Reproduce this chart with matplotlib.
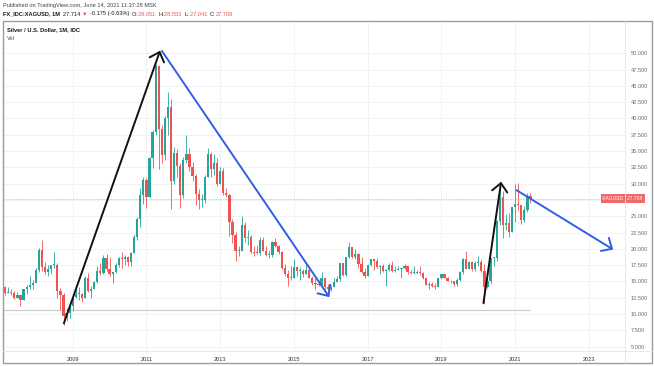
import numpy as np
import pandas as pd
import matplotlib
matplotlib.use("Agg")
import matplotlib.pyplot as plt
from matplotlib.patches import Rectangle
from matplotlib.lines import Line2D

# Дані: місячні свічки XAGUSD, березень 2007 - червень 2021
start_month = "2007-03"
first_open = 14.2

closes = [
    13.3, 13.4, 13.3, 12.4, 12.9, 12.2, 13.8, 14.2, 14.5, 14.8,              # 2007
    16.8, 19.9, 17.2, 16.4, 16.9, 17.5, 17.6, 13.6, 12.9, 9.7, 10.2, 11.3,   # 2008
    12.6, 13.1, 13.1, 12.5, 15.6, 13.6, 13.9, 14.9, 16.6, 16.3, 18.6, 16.9,  # 2009
    16.2, 16.4, 17.5, 18.6, 18.4, 18.7, 18.0, 19.4, 21.9, 24.6, 28.3, 30.6,  # 2010
    27.9, 33.9, 37.9, 48.0, 38.4, 34.4, 40.1, 41.7, 30.4, 34.7, 32.7, 28.2,  # 2011
    33.6, 34.6, 32.5, 31.2, 28.4, 27.5, 27.5, 31.1, 34.6, 32.3, 33.1, 29.9,  # 2012
    31.9, 28.6, 28.3, 24.2, 22.2, 19.7, 19.7, 23.6, 21.7, 21.9, 19.5, 19.4,  # 2013
    19.3, 21.3, 19.7, 19.0, 19.0, 21.0, 20.4, 19.5, 17.1, 16.2, 15.5, 15.6,  # 2014
    17.2, 16.6, 16.6, 16.2, 16.8, 15.6, 14.7, 14.6, 14.5, 15.5, 14.1, 13.8,  # 2015
    14.1, 14.9, 15.4, 17.8, 16.0, 18.7, 20.3, 18.7, 19.2, 17.7, 16.5, 15.9,  # 2016
    17.5, 18.4, 18.2, 17.2, 17.3, 16.6, 16.7, 17.6, 16.6, 16.7, 16.9, 17.0,  # 2017
    17.3, 16.4, 16.3, 16.3, 16.4, 16.3, 15.5, 14.5, 14.6, 14.3, 14.2, 15.5,  # 2018
    16.1, 15.6, 15.1, 15.0, 14.6, 15.3, 16.4, 18.4, 16.9, 18.0, 16.9, 17.9,  # 2019
    18.0, 16.6, 14.2, 15.0, 18.6, 18.6, 24.3, 28.0, 23.6, 23.9, 22.6, 26.4,  # 2020
    26.9, 26.7, 24.5, 25.9, 28.051, 27.708,                                  # 2021
]
highs = [
    14.3, 14.1, 13.9, 13.6, 13.4, 13.0, 13.9, 14.5, 15.8, 15.2,
    17.0, 20.1, 21.3, 18.0, 17.5, 17.6, 19.5, 17.8, 14.0, 13.2, 10.9, 11.6,
    12.9, 14.5, 14.1, 13.3, 15.8, 16.3, 14.3, 15.1, 17.4, 17.9, 19.0, 19.2,
    18.8, 16.5, 17.8, 18.8, 19.5, 19.1, 18.9, 19.5, 22.1, 24.9, 29.3, 31.0,
    30.9, 34.1, 38.2, 48.3, 48.1, 39.0, 40.4, 44.1, 43.0, 35.7, 35.3, 33.1,
    34.1, 37.5, 35.4, 33.4, 31.5, 29.2, 28.4, 31.4, 35.4, 34.8, 34.5, 34.0,
    32.5, 32.4, 29.3, 28.4, 24.6, 22.6, 20.5, 25.1, 24.1, 22.9, 22.1, 20.5,
    20.6, 21.9, 21.8, 20.4, 19.8, 21.2, 21.6, 20.6, 19.6, 17.7, 16.7, 17.3,
    18.5, 17.4, 17.2, 16.9, 17.8, 16.9, 15.8, 15.6, 15.3, 16.4, 15.6, 14.6,
    14.5, 15.6, 15.9, 17.9, 17.9, 18.8, 21.1, 20.3, 20.0, 19.3, 18.7, 17.0,
    17.7, 18.5, 18.5, 18.6, 17.6, 17.7, 16.9, 17.8, 18.2, 17.4, 17.3, 17.1,
    17.7, 17.4, 16.8, 17.3, 16.7, 17.3, 16.4, 15.6, 14.9, 14.9, 14.7, 15.6,
    16.2, 16.2, 15.7, 15.2, 15.0, 15.5, 16.6, 18.6, 19.6, 18.1, 18.1, 18.1,
    18.9, 18.5, 17.7, 15.9, 18.6, 18.7, 24.5, 29.8, 28.9, 25.4, 25.5, 26.4,
    30.0, 30.1, 26.8, 26.6, 28.5, 28.553,
]
lows = [
    12.9, 13.2, 12.9, 12.3, 12.4, 11.2, 12.2, 13.1, 13.9, 13.9,
    14.7, 16.5, 16.6, 16.2, 15.9, 16.1, 17.0, 12.5, 10.6, 8.4, 8.9, 9.4,
    10.5, 12.4, 12.2, 11.9, 12.4, 13.4, 12.5, 13.9, 14.7, 16.0, 16.2, 16.6,
    15.9, 14.7, 16.3, 17.2, 17.0, 17.6, 17.4, 17.4, 19.3, 21.3, 23.4, 26.9,
    26.3, 27.8, 32.4, 37.5, 32.3, 33.1, 33.7, 37.5, 26.1, 29.9, 31.0, 26.2,
    27.8, 33.1, 32.0, 30.4, 26.7, 26.1, 26.5, 27.0, 31.0, 31.0, 31.3, 29.6,
    29.9, 28.3, 27.9, 22.0, 20.9, 18.2, 18.9, 19.6, 21.0, 20.6, 19.4, 18.9,
    19.2, 19.0, 19.6, 18.9, 18.6, 18.7, 20.3, 19.2, 16.9, 15.8, 14.3, 15.2,
    15.6, 15.9, 15.3, 15.7, 16.2, 15.5, 14.5, 13.9, 14.3, 14.5, 13.9, 13.6,
    13.6, 14.1, 14.9, 15.0, 15.8, 15.9, 18.6, 18.6, 18.5, 17.0, 16.3, 15.6,
    15.8, 17.4, 16.8, 17.0, 16.2, 16.5, 14.3, 16.6, 16.5, 16.5, 16.7, 15.6,
    16.9, 16.1, 16.1, 16.2, 16.1, 16.0, 15.4, 14.4, 13.9, 14.2, 13.9, 14.2,
    15.4, 15.5, 15.0, 14.7, 14.3, 14.3, 15.0, 16.2, 16.9, 16.9, 16.6, 16.6,
    17.4, 16.5, 11.6, 14.0, 14.8, 17.3, 18.2, 23.7, 21.7, 22.9, 21.9, 22.6,
    24.2, 26.0, 23.8, 24.1, 25.7, 27.041,
]

opens = [first_open] + closes[:-1]

last_price = 27.708
base_level = 10.6

price_ticks = [5 + 2.5 * i for i in range(19)]
year_ticks = [2009, 2011, 2013, 2015, 2017, 2019, 2021, 2023]

# Намальовані від руки стрілки: (рік, ціна) початок -> кінець
arrows = [
    ((2008.76, 8.6), (2011.37, 50.4), "#111111"),
    ((2011.42, 50.35), (2015.96, 12.6), "#2f5fe3"),
    ((2020.14, 11.7), (2020.62, 30.3), "#111111"),
    ((2021.04, 29.0), (2023.66, 19.9), "#2f5fe3"),
]

header1 = "Published on TradingView.com, June 14, 2021 11:37:28 MSK"
header2 = [
    ("FX_IDC:XAGUSD, 1M  ", "#131722", "bold"),
    ("27.714 ", "#131722", "normal"),
    ("▼ ", "#ef5350", "normal"),
    ("-0.175 (-0.63%)  ", "#131722", "normal"),
    ("O:", "#131722", "normal"), ("28.051  ", "#ef5350", "normal"),
    ("H:", "#131722", "normal"), ("28.553  ", "#ef5350", "normal"),
    ("L:", "#131722", "normal"), ("27.041  ", "#ef5350", "normal"),
    ("C:", "#131722", "normal"), ("27.708", "#ef5350", "normal"),
]

GREEN = "#26a69a"
RED = "#ef5350"
W, H = 654, 366
FS = 4.1

plt.rcParams["font.family"] = ["Liberation Sans", "DejaVu Sans"]

fig = plt.figure(figsize=(W / 100, H / 100), dpi=100)
fig.patch.set_facecolor("white")

def fx(px):
    return px / W

def fy(py):
    return 1 - py / H

ax = fig.add_axes([fx(4), fy(351), fx(625) - fx(4), fy(21) - fy(351)])
ax.set_xlim(2007.136, 2023.98)
ax.set_ylim(4.34, 54.95)

# сітка
for p in price_ticks:
    ax.axhline(p, color="#eef0f4", lw=0.6, zorder=0)
for yr in year_ticks:
    ax.axvline(yr, color="#eef0f4", lw=0.6, zorder=0)

# свічки
months = pd.period_range(start_month, periods=len(closes), freq="M")
xs = np.array([m.year + (m.month - 1) / 12 for m in months])
o = np.array(opens)
c = np.array(closes)
hi = np.array(highs)
lo = np.array(lows)
up = c >= o
cols = np.where(up, GREEN, RED)
ax.vlines(xs, lo, hi, colors=cols, lw=0.6, zorder=2)
body_bottom = np.minimum(o, c)
body_height = np.maximum(np.abs(c - o), 0.15)
ax.bar(xs, body_height, bottom=body_bottom, width=0.06, color=cols, lw=0, zorder=3)

# лінії рівнів
ax.axhline(last_price, color="#f4a3a3", lw=0.6, ls=(0, (1, 1)), zorder=1)
ax.plot([xs[0] - 0.2, xs[-1]], [base_level, base_level], color="#c9cbd1", lw=0.8, zorder=1)

# стрілки
for (x0, y0), (x1, y1), col in arrows:
    ax.annotate("", xy=(x1, y1), xytext=(x0, y0),
                arrowprops=dict(arrowstyle="->,head_length=0.6,head_width=0.55",
                                color=col, lw=1.4, mutation_scale=10,
                                shrinkA=0, shrinkB=0), zorder=5)

# осі (мітку 27.500 закриває ярлик поточної ціни)
for s in ax.spines.values():
    s.set_visible(False)
ax.yaxis.tick_right()
ax.set_yticks(price_ticks)
ax.set_yticklabels(["" if abs(p - last_price) < 1 else f"{p:.3f}" for p in price_ticks])
ax.set_xticks(year_ticks)
ax.set_xticklabels([str(y) for y in year_ticks])
ax.tick_params(axis="y", length=0, pad=4, labelsize=FS, labelcolor="#6a6d78")
ax.tick_params(axis="x", length=0, pad=4, labelsize=FS, labelcolor="#30333c")

# мітка ціни
ax.text(1.0, last_price, "XAGUSD ", transform=ax.get_yaxis_transform(), ha="right", va="center",
        fontsize=3.6, color="white",
        bbox=dict(boxstyle="square,pad=0.35", fc="#f0696a", ec="none"), zorder=6)
ax.text(1.003, last_price, "27.708 ", transform=ax.get_yaxis_transform(), ha="left", va="center",
        fontsize=3.6, color="white",
        bbox=dict(boxstyle="square,pad=0.35", fc="#f0696a", ec="none"), zorder=6, clip_on=False)

# рамка графіка
fig.add_artist(Rectangle((fx(3), fy(363)), fx(652) - fx(3), fy(21) - fy(363),
                         transform=fig.transFigure, fill=False, ec="#9a9ca3", lw=1.0))
fig.add_artist(Line2D([fx(625), fx(625)], [fy(363), fy(21)], transform=fig.transFigure,
                      color="#e3e5ea", lw=0.6))
fig.add_artist(Line2D([fx(3), fx(652)], [fy(351), fy(351)], transform=fig.transFigure,
                      color="#e3e5ea", lw=0.6))

# заголовки
fig.text(fx(3), fy(5), header1, fontsize=FS, color="#3c3f48", va="center", ha="left")
renderer = fig.canvas.get_renderer()
x = fx(3)
for txt, col, wt in header2:
    t = fig.text(x, fy(14), txt, fontsize=FS, color=col, fontweight=wt, va="center", ha="left")
    bb = t.get_window_extent(renderer)
    x = bb.x1 / W
fig.text(fx(7), fy(30), "Silver / U.S. Dollar, 1M, IDC", fontsize=FS, color="#131722",
         fontweight="bold", va="center", ha="left")
fig.text(fx(7), fy(38), "Vol", fontsize=FS, color="#50535e", va="center", ha="left")

fig.savefig("out.png", dpi=100)
